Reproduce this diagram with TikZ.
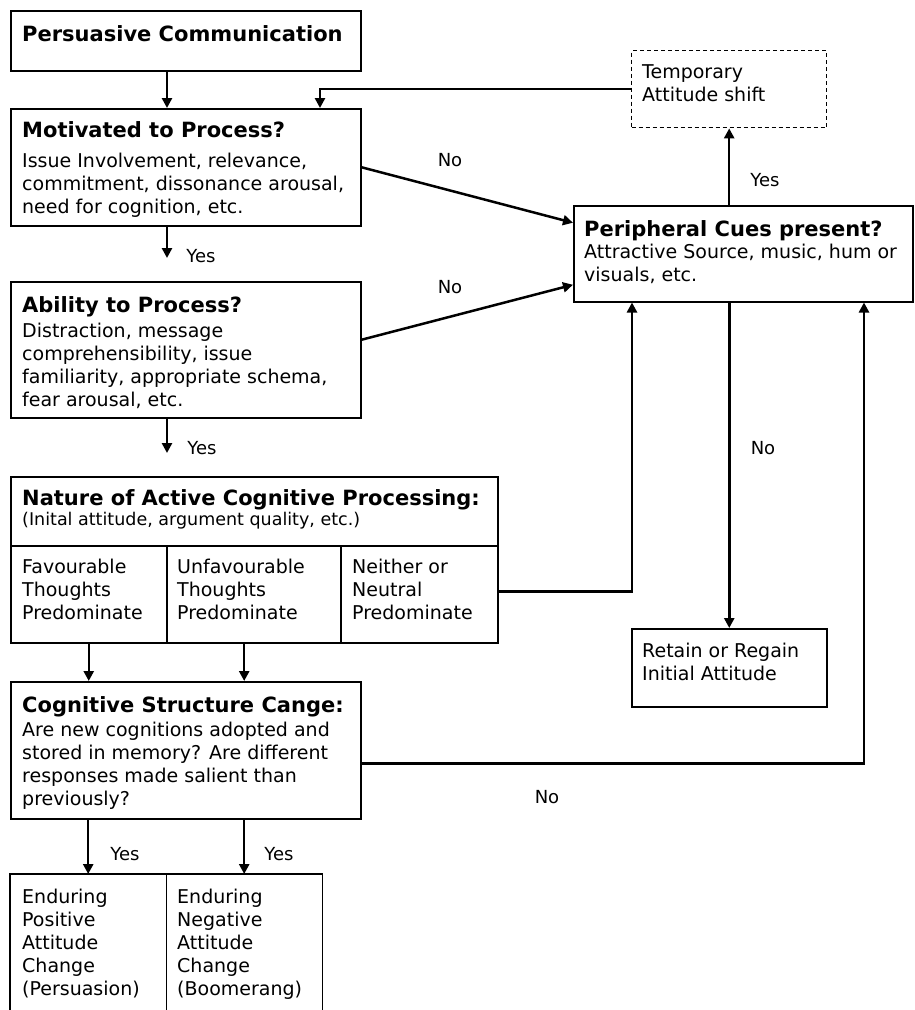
\documentclass[tikz,border=0pt]{standalone}
\usepackage{fontspec}
\setmainfont{DejaVu Sans}
\usetikzlibrary{arrows.meta}
% invisible strut that fixes the height of a text block's first line
\newcommand{\firstline}{\rule{0pt}{20pt}}
\newcommand{\boxhead}{\fontsize{21}{23}\selectfont\bfseries}

\begin{document}
\begin{tikzpicture}[x=1pt,y=-1pt,
  box/.style={draw, line width=1.5pt, inner sep=0pt, anchor=north west},
  openbox/.style={inner sep=0pt, anchor=north west},
  boxline/.style={line width=1.5pt},
  tempbox/.style={box, line width=1.4pt, dash pattern=on 4pt off 3pt},
  txt/.style={anchor=north west, inner sep=0pt, align=left,
    font=\fontsize{19}{23}\selectfont},
  lbl/.style={inner sep=0pt, font=\fontsize{18}{22}\selectfont},
  conn/.style={line width=2.5pt, -{Triangle[length=10pt,width=10pt]}}
]
\useasboundingbox (0,0) rectangle (914,1010);

% ---- boxes ----
\node[box, minimum width=350pt, minimum height=60pt]  (pc)   at (10,10)  {};
\node[box, minimum width=350pt, minimum height=117pt] (mot)  at (10,108) {};
\node[box, minimum width=350pt, minimum height=136pt] (abil) at (10,281) {};
\node[box, minimum width=487pt, minimum height=69pt]  (nat)  at (10,476) {};
\node[box, minimum width=156pt, minimum height=97pt]  (fav)  at (10,545) {};
\node[box, minimum width=174pt, minimum height=97pt]  (unf)  at (166,545) {};
\node[box, minimum width=157pt, minimum height=97pt]  (nei)  at (340,545) {};
\node[box, minimum width=350pt, minimum height=137pt] (cog)  at (10,681) {};
\node[openbox, minimum width=156pt, minimum height=136pt] (end1) at (10,874) {};
\node[openbox, minimum width=156pt, minimum height=136pt] (end2) at (166,874) {};
\draw[boxline] (end1.south west) -- (end1.north west) -- (end1.north east) -- (end1.south east);
\draw[boxline] (end2.north west) -- (end2.north east) -- (end2.south east);
\node[tempbox, minimum width=195pt, minimum height=77pt] (temp) at (631,50) {};
\node[box, minimum width=339pt, minimum height=96pt]  (peri) at (573,205) {};
\node[box, minimum width=195pt, minimum height=78pt]  (ret)  at (631,628) {};

% ---- texts ----
\node[txt] (pcT) at (22,21.7) {\firstline{\boxhead Persuasive Communication}};
\node[txt] (motT) at (22,117.5) {\firstline{\boxhead Motivated to Process?}\\[7pt]
  Issue Involvement, relevance,\\ commitment, dissonance arousal,\\ need for cognition, etc.};
\node[txt] (abilT) at (22,292) {\firstline{\boxhead Ability to Process?}\\[2pt]
  Distraction, message\\ comprehensibility, issue\\ familiarity, appropriate schema,\\ fear arousal, etc.};
\node[txt] (natT) at (22,485) {\firstline{\boxhead Nature of Active Cognitive Processing:}\\[-3pt]
  {\fontsize{17.5}{20}\selectfont (Inital attitude, argument quality, etc.)}};
\node[txt] (favT) at (22,553) {\firstline Favourable\\ Thoughts\\ Predominate};
\node[txt] (unfT) at (177,553) {\firstline Unfavourable\\ Thoughts\\ Predominate};
\node[txt] (neiT) at (352,553) {\firstline Neither or\\ Neutral\\ Predominate};
\node[txt] (cogT) at (22,692.5) {\firstline{\boxhead Cognitive Structure Cange:}\\[1pt]
  Are new cognitions adopted and\\ stored in memory? Are different\\ responses made salient than\\ previously?};
\node[txt] (end1T) at (22,883) {\firstline Enduring\\ Positive\\ Attitude\\ Change\\ (Persuasion)};
\node[txt] (end2T) at (177,883) {\firstline Enduring\\ Negative\\ Attitude\\ Change\\ (Boomerang)};
\node[txt] (tempT) at (642,58) {\firstline Temporary\\ Attitude shift};
\node[txt] (periT) at (584,216) {\firstline{\boxhead Peripheral Cues present?}\\[-1pt]
  Attractive Source, music, hum or\\ visuals, etc.};
\node[txt] (retT) at (642,637) {\firstline Retain or Regain\\ Initial Attitude};

% ---- connectors ----
\draw[conn] ([xshift=157pt]pc.south west) -- ([xshift=157pt]mot.north west);
\draw[conn] (temp.west) -| ([xshift=310pt]mot.north west);
\draw[conn] (mot.east) -- ([yshift=31pt]peri.west);
\draw[conn] ([yshift=10pt]abil.east) -- ([yshift=-31pt]peri.west);
\draw[conn, shorten >=23pt] ([xshift=157pt]mot.south west) -- ([xshift=157pt]abil.north west);
\draw[conn, shorten >=23pt] ([xshift=157pt]abil.south west) -- ([xshift=157pt]nat.north west);
\draw[conn] (peri.north -| temp.south) -- (temp.south);
\draw[conn] (peri.south -| ret.north) -- (ret.north);
\draw[conn] ([yshift=3pt]nei.east) -| ([xshift=59pt]peri.south west);
\draw[conn] (fav.south) -- (fav.south |- cog.north);
\draw[conn] (unf.south -| end2.north) -- (cog.north -| end2.north);
\draw[conn] (cog.south -| end1.north) -- (end1.north);
\draw[conn] (cog.south -| end2.north) -- (end2.north);
\draw[conn] ([yshift=-13pt]cog.east) -| ([xshift=291pt]peri.south west);

% ---- connector labels ----
\node[lbl] (noMot)  at (450,160) {No};
\node[lbl] (noAbil) at (450,287) {No};
\node[lbl] (yesTmp) at (765,180) {Yes};
\node[lbl] (noRet)  at (763,448) {No};
\node[lbl] (noCog)  at (547,797) {No};
\node[lbl] (yesMot) at (201,256) {Yes};
\node[lbl] (yesAbl) at (202,448) {Yes};
\node[lbl] (yesE1)  at (125,854) {Yes};
\node[lbl] (yesE2)  at (279,854) {Yes};
\end{tikzpicture}
\end{document}
